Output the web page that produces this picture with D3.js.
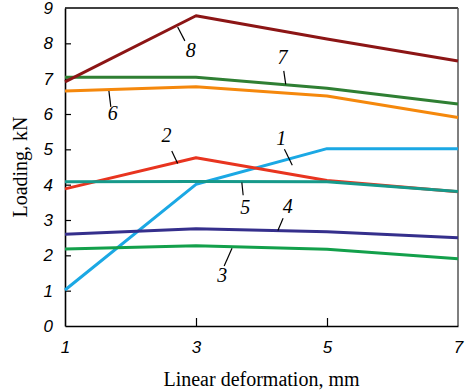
<!DOCTYPE html>
<html>
<head>
<meta charset="utf-8">
<script src="https://cdn.jsdelivr.net/npm/d3@7"></script>
<style>
  body { margin: 0; background: #fff; }
  .tick text { font-family: "Liberation Sans", Arial, sans-serif; font-style: italic; font-size: 17px; fill: #000; }
  .title { font-family: "Liberation Serif", "Times New Roman", serif; font-size: 20px; fill: #000; }
  .lab { font-family: "Liberation Serif", "Times New Roman", serif; font-style: italic; font-size: 20px; fill: #000; }
</style>
</head>
<body>
<script>
/* DATA */
var xValues = [1, 3, 5, 7];
var xTicks = [1, 3, 5, 7];
var yTicks = [0, 1, 2, 3, 4, 5, 6, 7, 8, 9];

var s1 = [1.02, 4.01, 5.02, 5.02];
var s2 = [3.88, 4.76, 4.12, 3.8];
var s3 = [2.18, 2.27, 2.17, 1.9];
var s4 = [2.6, 2.75, 2.67, 2.5];
var s5 = [4.08, 4.09, 4.08, 3.81];
var s6 = [6.65, 6.77, 6.51, 5.9];
var s7 = [7.04, 7.04, 6.73, 6.28];
var s8 = [6.91, 8.78, 8.12, 7.5];

var seriesNames = ["1", "2", "3", "4", "5", "6", "7", "8"];
var seriesValues = [s1, s2, s3, s4, s5, s6, s7, s8];
var colors = ["#1ba8e4", "#e8341f", "#13a04b", "#352f8c", "#16998a", "#f5880c", "#2f7f33", "#8c1515"];

// label text position (data coords) and leader line ends (data coords)
var labelPos = [[4.3, 5.25], [2.55, 5.35], [3.4, 1.37], [4.4, 3.33], [3.75, 3.3], [1.73, 5.95], [4.32, 7.55], [2.92, 7.75]];
var leaders = [
  [[4.35, 5.0], [4.47, 4.55]],
  [[2.63, 4.95], [2.72, 4.6]],
  [[3.55, 2.2], [3.43, 1.7]],
  [[4.33, 3.05], [4.25, 2.7]],
  [[3.7, 4.06], [3.72, 3.7]],
  [[1.67, 6.65], [1.7, 6.2]],
  [[4.34, 7.22], [4.37, 6.84]],
  [[2.72, 8.46], [2.83, 8.07]]
];

/* GLOBALS */
var margin = { top: 8, left: 65, bottom: 65, right: 7 };
var width = 465 - margin.left - margin.right;
var height = 391 - margin.top - margin.bottom;

var x = d3.scaleLinear().domain([1, 7]).range([0, width]);
var y = d3.scaleLinear().domain([0, 9]).range([height, 0]);

var svg = d3.select("body").append("svg")
  .attr("width", 465)
  .attr("height", 391);

var g = svg.append("g")
  .attr("transform", "translate(" + margin.left + "," + margin.top + ")");

// frame
g.append("line").attr("x1", 0).attr("x2", width).attr("y1", 0).attr("y2", 0)
  .attr("stroke", "#000").attr("stroke-width", 1.5);
g.append("line").attr("x1", width).attr("x2", width).attr("y1", 0).attr("y2", height)
  .attr("stroke", "#555").attr("stroke-width", 1.5);

// axes
var axisX = g.append("g")
  .attr("transform", "translate(0," + height + ")")
  .call(d3.axisBottom(x).tickValues(xTicks).tickSizeInner(-8).tickSizeOuter(0).tickPadding(15).tickFormat(d3.format("d")));
var axisY = g.append("g")
  .call(d3.axisLeft(y).tickValues(yTicks).tickSizeInner(-6).tickSizeOuter(0).tickPadding(12).tickFormat(d3.format("d")));

[axisX, axisY].forEach(function (a) {
  a.select(".domain").attr("stroke", "#000").attr("stroke-width", 1.6);
  a.selectAll(".tick line").attr("stroke", "#000").attr("stroke-width", 1.2);
});
axisX.selectAll(".tick").filter(function (d) { return d === 1 || d === 7; }).select("line").remove();
axisY.selectAll(".tick").filter(function (d) { return d === 0 || d === 9; }).select("line").remove();

// lines
var line = d3.line()
  .x(function (d) { return x(d[0]); })
  .y(function (d) { return y(d[1]); });

seriesValues.forEach(function (vals, i) {
  var pts = vals.map(function (v, j) { return [xValues[j], v]; });
  g.append("path")
    .datum(pts)
    .attr("fill", "none")
    .attr("stroke", colors[i])
    .attr("stroke-width", 3)
    .attr("stroke-linejoin", "round")
    .attr("d", line);
});

// curve labels
seriesNames.forEach(function (name, i) {
  g.append("line")
    .attr("x1", x(leaders[i][0][0])).attr("y1", y(leaders[i][0][1]))
    .attr("x2", x(leaders[i][1][0])).attr("y2", y(leaders[i][1][1]))
    .attr("stroke", "#000").attr("stroke-width", 1.2);
  g.append("text")
    .attr("class", "lab")
    .attr("x", x(labelPos[i][0]))
    .attr("y", y(labelPos[i][1]))
    .attr("text-anchor", "middle")
    .attr("dominant-baseline", "middle")
    .text(name);
});

// titles
svg.append("text")
  .attr("class", "title")
  .attr("x", margin.left + width / 2)
  .attr("y", 386)
  .attr("text-anchor", "middle")
  .text("Linear deformation, mm");

svg.append("text")
  .attr("class", "title")
  .attr("transform", "translate(22," + (margin.top + height / 2) + ") rotate(-90)")
  .attr("text-anchor", "middle")
  .attr("dominant-baseline", "middle")
  .text("Loading, kN");
</script>
</body>
</html>
